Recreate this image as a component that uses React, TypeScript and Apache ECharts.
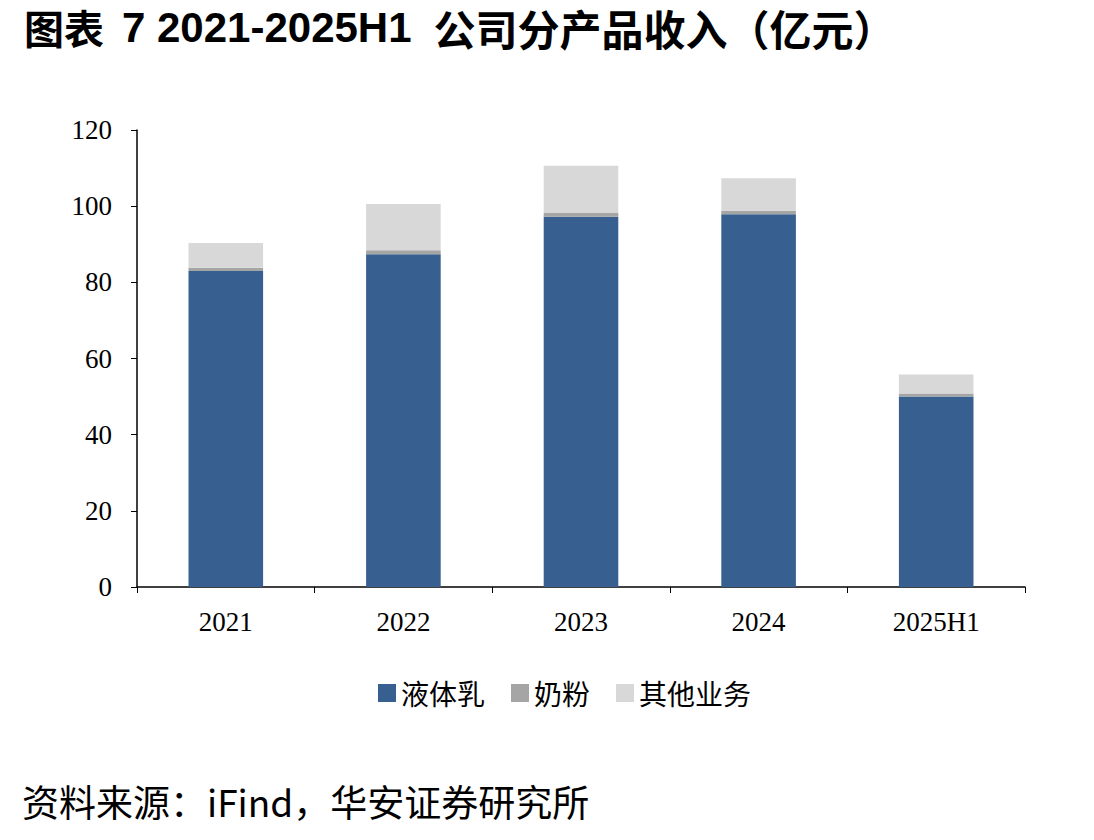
import React, { useEffect, useRef } from "react";
import * as echarts from "echarts";

const categories = ["2021", "2022", "2023", "2024", "2025H1"];
const liquidMilk = [83.0, 87.4, 97.2, 97.9, 50.0];
const milkPowder = [0.8, 1.0, 1.0, 0.9, 0.8];
const otherBiz = [6.5, 12.2, 12.4, 8.5, 5.0];
const yTicks = [0, 20, 40, 60, 80, 100, 120];

const seriesNames = ["液体乳", "奶粉", "其他业务"];
const colors = ["#375F8F", "#A5A5A5", "#D8D8D8"];

const titleParts = ["图表", "7 2021-2025H1", "公司分产品收入（亿元）"];
const sourceText = "资料来源：iFind，华安证券研究所";

export default function App() {
  const ref = useRef<HTMLDivElement>(null);
  useEffect(() => {
    document.body.style.margin = "0";
    const chart = echarts.init(ref.current!, null, { renderer: "svg" });
    const mk = (name: string, data: number[], color: string) => ({
      name,
      type: "bar",
      stack: "total",
      barWidth: "42%",
      data,
      itemStyle: { color },
    });
    chart.setOption({
      animation: false,
      backgroundColor: "#ffffff",
      legend: {
        left: 373,
        top: 674,
        itemWidth: 18,
        itemHeight: 18,
        itemGap: 26,
        icon: "rect",
        textStyle: { fontFamily: "Noto Sans CJK SC", fontSize: 28, color: "#000" },
        data: seriesNames,
      },
      grid: { left: 137, right: 69, top: 130, bottom: 253, containLabel: false },
      xAxis: {
        type: "category",
        data: categories,
        axisLine: { lineStyle: { color: "#000", width: 1.5 } },
        axisTick: { show: true, alignWithLabel: false, length: 6, lineStyle: { color: "#000" } },
        axisLabel: { fontFamily: "Liberation Serif", fontSize: 27, color: "#000", margin: 21 },
      },
      yAxis: {
        type: "value",
        min: yTicks[0],
        max: yTicks[yTicks.length - 1],
        interval: 20,
        splitLine: { show: false },
        axisLine: { show: true, lineStyle: { color: "#000", width: 1.5 } },
        axisTick: { show: true, inside: false, length: 6, lineStyle: { color: "#000" } },
        axisLabel: { fontFamily: "Liberation Serif", fontSize: 27, color: "#000", margin: 25 },
      },
      series: [
        mk(seriesNames[0], liquidMilk, colors[0]),
        mk(seriesNames[1], milkPowder, colors[1]),
        mk(seriesNames[2], otherBiz, colors[2]),
      ],
      graphic: [
        {
          type: "text",
          x: 24,
          y: 4,
          style: {
            text: `{a|${titleParts[0]}}{b|${titleParts[1]}}{c|${titleParts[2]}}`,
            fill: "#000",
            rich: {
              a: {
                fontFamily: "Noto Sans CJK SC",
                fontWeight: "bold",
                fontSize: 40,
                lineHeight: 46,
                fill: "#000",
              },
              b: {
                fontFamily: "Liberation Sans",
                fontWeight: "bold",
                fontSize: 42,
                lineHeight: 46,
                padding: [0, 22, 0, 18],
                fill: "#000",
              },
              c: {
                fontFamily: "Noto Sans CJK SC",
                fontWeight: "bold",
                fontSize: 42,
                lineHeight: 46,
                fill: "#000",
              },
            },
          },
        },
        {
          type: "text",
          x: 22,
          y: 801,
          style: {
            text: sourceText,
            fontFamily: "Noto Sans CJK SC",
            fontSize: 37,
            fill: "#000",
            verticalAlign: "middle",
          },
        },
      ],
    });
    return () => chart.dispose();
  }, []);
  return <div ref={ref} style={{ width: 1094, height: 840 }} />;
}
